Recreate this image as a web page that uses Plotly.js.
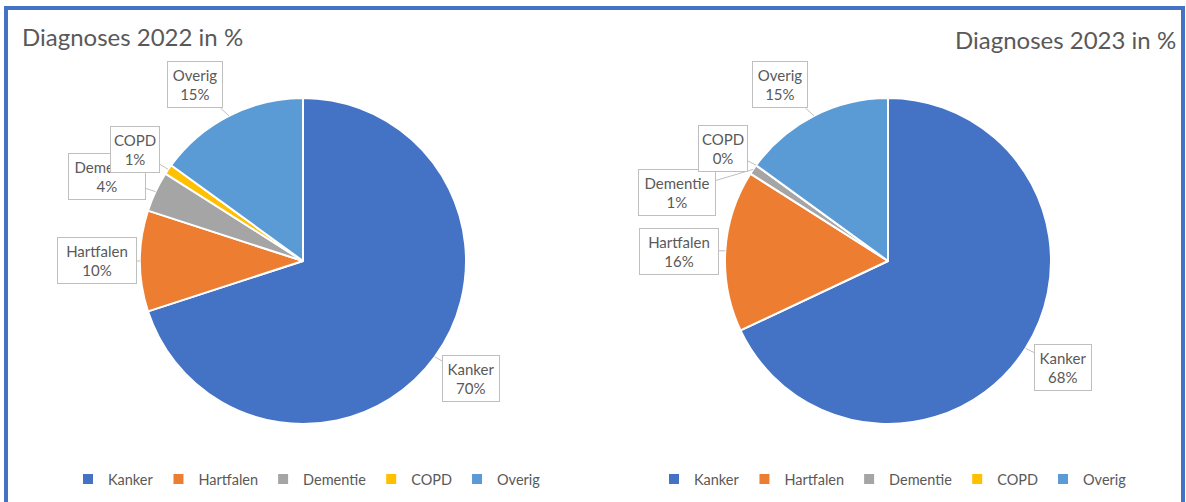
<!DOCTYPE html>
<html>
<head>
<meta charset="utf-8">
<script src="https://cdn.plot.ly/plotly-3.0.1.min.js"></script>
<style>html,body{margin:0;padding:0;background:#fff}#chart{width:1186px;height:502px}</style>
</head>
<body>
<div id="chart"></div>
<script>
// ---- data ----
const categories = ['Kanker', 'Hartfalen', 'Dementie', 'COPD', 'Overig'];
const values2022 = [70, 10, 4, 1, 15];
const values2023 = [68, 16, 1, 0, 15];
const titles = ['Diagnoses 2022 in %', 'Diagnoses 2023 in %'];

// ---- styling / layout ----
const W = 1186, H = 502;
const sliceColors = ['#4472C4', '#ED7D31', '#A5A5A5', '#FFC000', '#5B9BD5'];
const textColor = '#595959';
const FONT = 'Lato, "Open Sans", sans-serif';

const pies = [
  {cx: 303, cy: 261, r: 163, values: values2022, legend: 'legend', group: 'g2022',
   boxes: {Kanker: [471, 378], Hartfalen: [97, 260], Dementie: [107, 176], COPD: [135, 149], Overig: [195, 85]}},
  {cx: 888, cy: 261, r: 163, values: values2023, legend: 'legend2', group: 'g2023',
   boxes: {Kanker: [1063, 367], Hartfalen: [679, 251], Dementie: [677, 192], COPD: [723, 148], Overig: [780, 85]}}
];
const boxWidths = {Kanker: 50, Hartfalen: 72, Dementie: 70, COPD: 42, Overig: 48};

const traces = pies.map(p => ({
  type: 'pie',
  labels: categories,
  values: p.values,
  sort: false,
  direction: 'clockwise',
  rotation: 0,
  textinfo: 'none',
  hoverinfo: 'label+value',
  marker: {colors: sliceColors, line: {color: '#FFFFFF', width: 2}},
  domain: {
    x: [(p.cx - p.r) / W, (p.cx + p.r) / W],
    y: [1 - (p.cy + p.r) / H, 1 - (p.cy - p.r) / H]
  },
  legend: p.legend,
  legendgroup: p.group,
  showlegend: true
}));

const annotations = [];
pies.forEach(p => {
  const total = p.values.reduce((a, b) => a + b, 0);
  let cum = 0;
  categories.forEach((cat, i) => {
    const v = p.values[i];
    const theta = 2 * Math.PI * (cum + v / 2) / total;
    cum += v;
    const tx = p.cx + p.r * Math.sin(theta);
    const ty = p.cy - p.r * Math.cos(theta);
    const b = p.boxes[cat];
    annotations.push({
      xref: 'paper', yref: 'paper',
      x: tx / W, y: 1 - ty / H,
      ax: b[0] - tx, ay: b[1] - ty,
      text: cat + '<br>' + v + '%',
      showarrow: true, arrowhead: 0, arrowwidth: 1, arrowcolor: '#BFBFBF', standoff: 0,
      bgcolor: '#FFFFFF', bordercolor: '#BFBFBF', borderwidth: 1, borderpad: 3,
      width: boxWidths[cat], height: 39,
      font: {family: FONT, size: 15, color: textColor}
    });
  });
});

// titles
annotations.push({
  xref: 'paper', yref: 'paper', x: 20 / W, y: 1 - 36 / H, xanchor: 'left', yanchor: 'middle',
  text: titles[0], showarrow: false, font: {family: FONT, size: 24, color: textColor}
});
annotations.push({
  xref: 'paper', yref: 'paper', x: 1178 / W, y: 1 - 39 / H, xanchor: 'right', yanchor: 'middle',
  text: titles[1], showarrow: false, font: {family: FONT, size: 24, color: textColor}
});

const legendStyle = (xc) => ({
  orientation: 'h', x: xc / W, xanchor: 'center', y: 1 - 479 / H, yanchor: 'middle',
  font: {family: FONT, size: 14.5, color: textColor}, bgcolor: 'rgba(0,0,0,0)',
  itemwidth: 30, traceorder: 'normal', itemclick: false
});

const layout = {
  width: W, height: H,
  margin: {l: 0, r: 0, t: 0, b: 0},
  paper_bgcolor: '#FFFFFF',
  showlegend: true,
  legend: legendStyle(307),
  legend2: legendStyle(893),
  annotations: annotations,
  shapes: [{
    type: 'rect', xref: 'paper', yref: 'paper',
    x0: 6 / W, x1: 1183 / W, y0: -0.2, y1: 1 - 8 / H,
    line: {color: '#4472C4', width: 4}, fillcolor: 'rgba(0,0,0,0)', layer: 'above'
  }]
};

Plotly.newPlot('chart', traces, layout, {displayModeBar: false, staticPlot: true});
</script>
</body>
</html>
